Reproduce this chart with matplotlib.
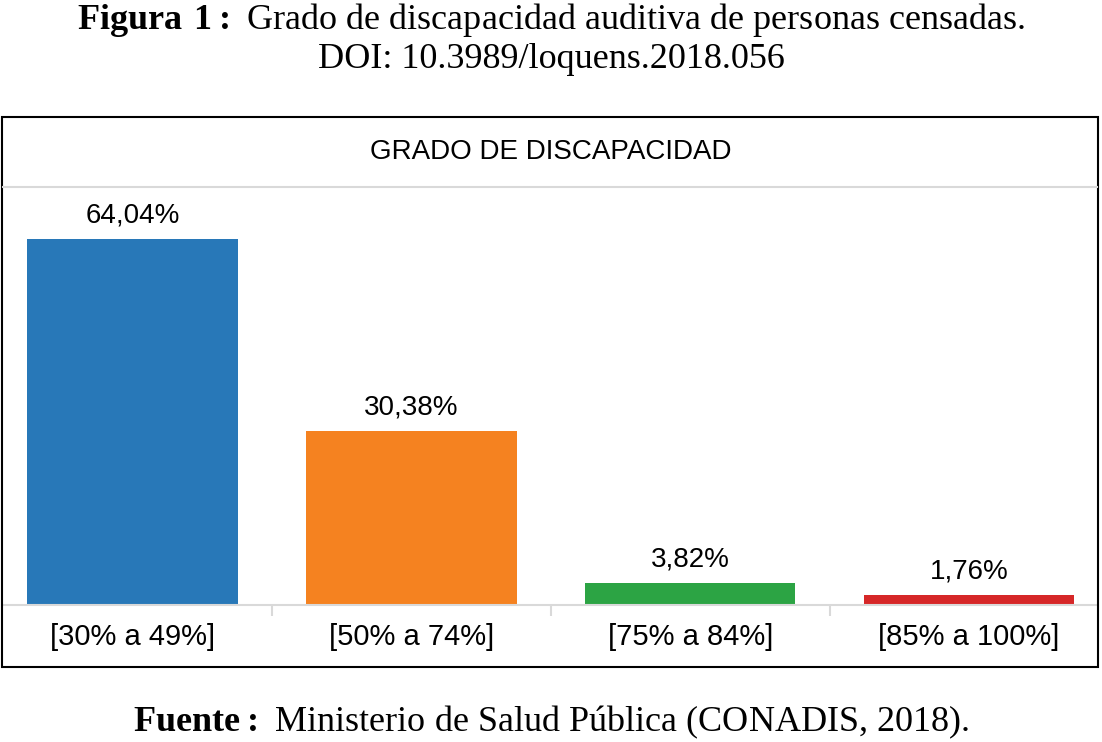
import matplotlib

matplotlib.use("Agg")
import matplotlib.pyplot as plt
from matplotlib.patches import Rectangle

plt.rcParams["mathtext.fontset"] = "custom"
plt.rcParams["mathtext.rm"] = "Liberation Serif"
plt.rcParams["mathtext.bf"] = "Liberation Serif:bold"

categories = ["[30% a 49%]", "[50% a 74%]", "[75% a 84%]", "[85% a 100%]"]
values = [64.04, 30.38, 3.82, 1.76]
labels = ["64,04%", "30,38%", "3,82%", "1,76%"]
colors = ["#2878b8", "#f58220", "#2ca444", "#d62728"]

W, H = 1102, 742
fig = plt.figure(figsize=(W / 100, H / 100), dpi=100)

# outer frame of the chart box
fig.add_artist(Rectangle((2 / W, 1 - 667 / H), 1096 / W, 550 / H,
                         transform=fig.transFigure, fill=False, ec="black", lw=1.5))
fig.add_artist(plt.Line2D([3 / W, 1097 / W], [1 - 187 / H] * 2,
                          transform=fig.transFigure, color="#d9d9d9", lw=1.5))

ax = fig.add_axes([3 / W, 1 - 605 / H, 1094 / W, (605 - 187) / H])
ax.bar(range(len(values)), values, width=0.755, color=colors)
ax.set_xlim(-0.465, 3.459)
ax.set_ylim(0, 73.1)
for i, (v, lab) in enumerate(zip(values, labels)):
    ax.text(i, v + 1.8, lab, ha="center", va="bottom", fontsize=20, family="Liberation Sans")
for s in ["top", "right", "left"]:
    ax.spines[s].set_visible(False)
ax.spines["bottom"].set_color("#d9d9d9")
ax.spines["bottom"].set_linewidth(1.5)
ax.set_yticks([])
ax.set_xticks([0.5, 1.5, 2.5])
ax.set_xticklabels([])
ax.tick_params(axis="x", length=8, color="#d9d9d9", width=1.5)
for i, c in enumerate(categories):
    ax.text(i, -5.6, c, ha="center", va="center", fontsize=21, family="Liberation Sans")

fig.text(0.5, 1 - 152 / H, "GRADO DE DISCAPACIDAD", ha="center", va="center",
         fontsize=20, family="Liberation Sans")

serif = "Liberation Serif"
fig.text(0.5, 1 - 20 / H, r"$\mathbf{Figura\ 1{:}}$ Grado de discapacidad auditiva de personas censadas.",
         ha="center", va="center", fontsize=26, family=serif)
fig.text(0.5, 1 - 60 / H, "DOI: 10.3989/loquens.2018.056", ha="center", va="center",
         fontsize=26, family=serif)
fig.text(0.5, 1 - 722 / H, r"$\mathbf{Fuente{:}}$ Ministerio de Salud Pública (CONADIS, 2018).",
         ha="center", va="center", fontsize=26, family=serif)

fig.savefig("out.png", dpi=100)
